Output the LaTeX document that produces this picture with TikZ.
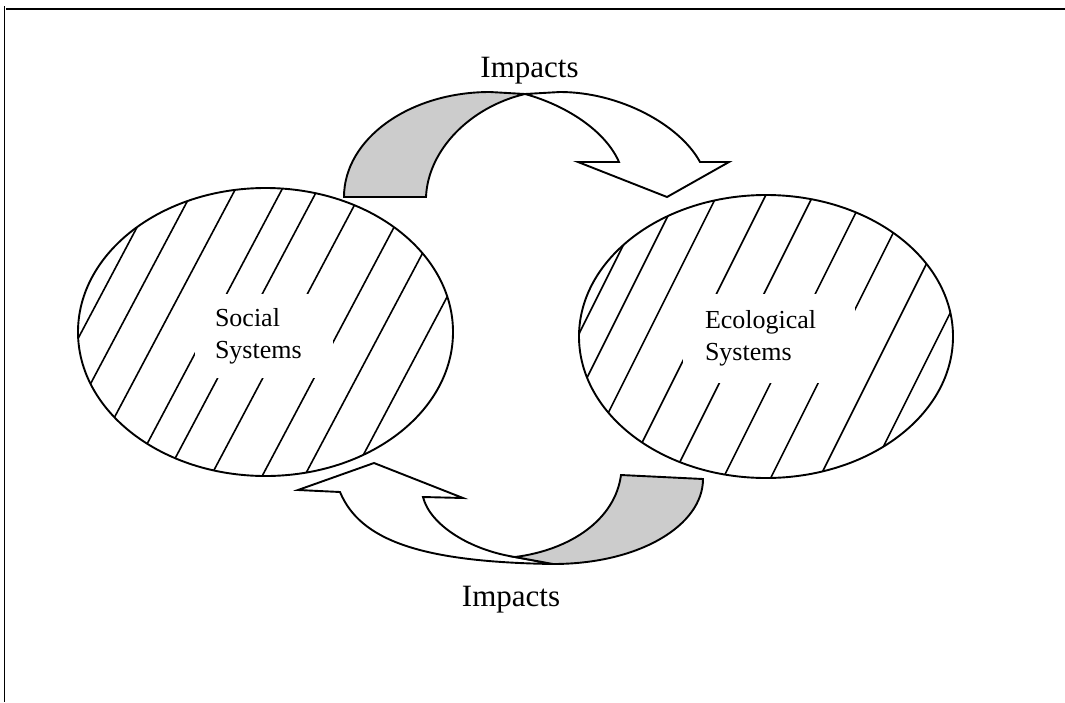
\documentclass[tikz,border=0pt]{standalone}
\usepackage{xcolor}
\usepackage{fontspec}
\setmainfont{Liberation Serif}
\usepackage{tikz}
\usetikzlibrary{calc}

\tikzset{
  hatch/.style={black, line width=1.6pt},
  rim/.style={black, line width=1.9pt},
  band/.style={draw=black, line width=1.9pt, line join=miter, fill=white},
  bandback/.style={band, fill=gray!40},
  sysname/.style={fill=white, align=left, inner ysep=0pt, font=\fontsize{26}{32}\selectfont},
  impact/.style={anchor=base, inner sep=0pt, font=\fontsize{31}{37}\selectfont}
}

\begin{document}
\begin{tikzpicture}[x=1pt, y=-1pt]
\useasboundingbox (0,0) rectangle (1065,702);
\draw[line width=2.2pt] (4,9)--(1065,9);
\draw[double, line width=1pt, double distance=.8pt] (5,6)--(5,702);

\begin{scope}
\clip (265.5,332) ellipse [x radius=187.5, y radius=144];
\foreach \x in {79,115.5,157.2,203.9,239.6,284.7,336,378.3,426} {
  \draw[hatch] (\x+106,136.7)--(\x-106,536.7);
}
\end{scope}
\draw[rim] (265.5,332) ellipse [x radius=187.5, y radius=144];

\begin{scope}
\clip (766,336.5) ellipse [x radius=187, y radius=141.5];
\foreach \x in {577.5,607.5,646.3,695,742.5,793.8,841.3,890,938.3} {
  \draw[hatch] (\x+100,136.7)--(\x-100,536.7);
}
\end{scope}
\draw[rim] (766,336.5) ellipse [x radius=187, y radius=141.5];

\node[sysname, text width=98pt, inner xsep=20pt, minimum height=84pt] (social) at (264,336) {Social\\Systems};
\node[sysname, text width=128pt, inner xsep=22pt, minimum height=89pt] (eco) at (769,338.5) {Ecological\\Systems};

\draw[band] (525,94)--(560,92) .. controls (620,92) and (680,125) .. (700,162)
  --(729,162)--(667,197)--(578,162)--(619,162)
  .. controls (605,130) and (565,105) .. (525,94) -- cycle;
\draw[bandback] (344,197) .. controls (344,139) and (409,92) .. (490,92) -- (525,94)
  .. controls (470,107) and (428,150) .. (426,197) -- cycle;

\draw[band] (515,557) .. controls (470,550) and (430,525) .. (423,497)
  --(463,498)--(374,463)--(298,490)--(340,492)
  .. controls (360,540) and (420,562) .. (553,564) -- cycle;
\draw[bandback] (621,475)--(703,479) .. controls (703,525) and (640,564) .. (553,564) -- (515,557)
  .. controls (570,550) and (615,520) .. (621,475) -- cycle;

\node[impact] (topimp) at (529.5,77.3) {Impacts};
\node[impact] (botimp) at (511,606.7) {Impacts};
\end{tikzpicture}
\end{document}
